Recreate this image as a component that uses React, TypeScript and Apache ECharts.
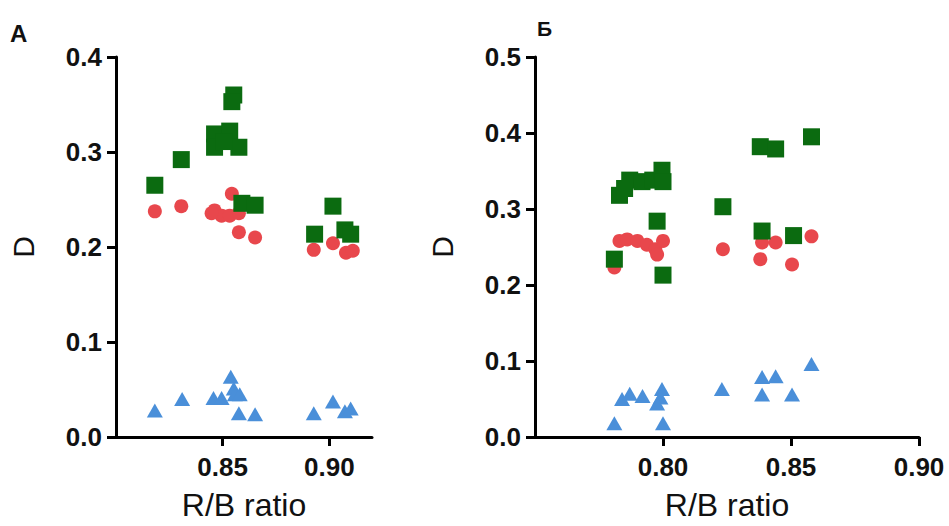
import React, { useEffect, useRef } from "react";
import * as echarts from "echarts";

// Panel A data: [R/B ratio, D]
const aGreen: number[][] = [
  [0.8182, 0.265], [0.8306, 0.292], [0.8462, 0.319], [0.8462, 0.305], [0.8533, 0.322],
  [0.8576, 0.305], [0.8505, 0.311], [0.8552, 0.36], [0.8543, 0.353], [0.859, 0.246],
  [0.8652, 0.244], [0.9017, 0.243], [0.8931, 0.2135], [0.9073, 0.218], [0.91, 0.2135],
];
const aRed: number[][] = [
  [0.8182, 0.2375], [0.8306, 0.243], [0.8543, 0.256], [0.8462, 0.2385], [0.8495, 0.233],
  [0.8533, 0.233], [0.8576, 0.2355], [0.8448, 0.2355], [0.8576, 0.2155], [0.8652, 0.21],
  [0.8927, 0.197], [0.9017, 0.204], [0.9078, 0.194], [0.911, 0.196],
];
const aBlue: number[][] = [
  [0.8182, 0.028], [0.831, 0.04], [0.8457, 0.041], [0.8495, 0.041], [0.8538, 0.0635],
  [0.8552, 0.051], [0.8557, 0.045], [0.858, 0.045], [0.8576, 0.025], [0.8652, 0.024],
  [0.8927, 0.025], [0.9017, 0.0375], [0.9073, 0.027], [0.91, 0.03],
];

// Panel Б data
const bGreen: number[][] = [
  [0.858, 0.395], [0.838, 0.382], [0.844, 0.379], [0.8234, 0.303], [0.8387, 0.271],
  [0.851, 0.265], [0.783, 0.318], [0.787, 0.338], [0.7918, 0.336], [0.796, 0.338],
  [0.7996, 0.351], [0.8, 0.336], [0.785, 0.327], [0.7977, 0.284], [0.781, 0.234], [0.8, 0.213],
];
const bRed: number[][] = [
  [0.858, 0.264], [0.844, 0.256], [0.8387, 0.256], [0.838, 0.234], [0.8504, 0.227],
  [0.8234, 0.247], [0.781, 0.223], [0.783, 0.258], [0.786, 0.26], [0.79, 0.258],
  [0.7937, 0.253], [0.797, 0.247], [0.7977, 0.24], [0.8, 0.258],
];
const bBlue: number[][] = [
  [0.858, 0.096], [0.8387, 0.079], [0.844, 0.08], [0.8387, 0.056], [0.8504, 0.056],
  [0.823, 0.063], [0.784, 0.05], [0.787, 0.057], [0.792, 0.054], [0.7996, 0.063],
  [0.799, 0.052], [0.7977, 0.044], [0.781, 0.018], [0.8, 0.018],
];

const aXTicks = [0.85, 0.9];
const bXTicks = [0.8, 0.85, 0.9];

const GREEN = "#0b6b10";
const RED = "#e8474c";
const BLUE = "#4a8fd9";
const FONT = "'Liberation Sans', Arial, sans-serif";

export default function App() {
  const ref = useRef<HTMLDivElement>(null);
  useEffect(() => {
    if (!ref.current) return;
    const chart = echarts.init(ref.current, null, { renderer: "svg" });
    const axisLine = { show: true, lineStyle: { color: "#000", width: 3 } };
    const tickLabel = { color: "#111", fontSize: 26, fontWeight: "bold" as const, fontFamily: FONT };
    const xAxis = (idx: number, min: number, max: number, ticks: number[]) => ({
      type: "value",
      gridIndex: idx,
      min,
      max,
      axisLine,
      axisTick: { show: true, length: 9, lineStyle: { color: "#000", width: 3 }, customValues: ticks },
      axisLabel: { ...tickLabel, margin: 17, customValues: ticks, formatter: (v: number) => v.toFixed(2) },
      splitLine: { show: false },
      name: "R/B ratio",
      nameLocation: "middle",
      nameGap: 52,
      nameTextStyle: { color: "#111", fontSize: 32, fontFamily: FONT },
    });
    const yAxis = (idx: number, max: number) => ({
      type: "value",
      gridIndex: idx,
      min: 0,
      max,
      interval: 0.1,
      axisLine,
      axisTick: { show: true, length: 9, lineStyle: { color: "#000", width: 3 } },
      axisLabel: { ...tickLabel, margin: 14, formatter: (v: number) => v.toFixed(1) },
      splitLine: { show: false },
      name: "D",
      nameLocation: "middle",
      nameGap: 78,
      nameTextStyle: { color: "#111", fontSize: 30, fontFamily: FONT },
    });
    const scatter = (data: number[][], idx: number, symbol: string, size: any, color: string, z: number) => ({
      type: "scatter",
      xAxisIndex: idx,
      yAxisIndex: idx,
      data,
      symbol,
      symbolSize: size,
      itemStyle: { color, opacity: 1 },
      z,
    });
    chart.setOption({
      animation: false,
      backgroundColor: "#fff",
      grid: [
        { left: 116, top: 57, width: 256, height: 385 },
        { left: 535, top: 57, width: 384, height: 385 },
      ],
      xAxis: [xAxis(0, 0.8, 0.92, aXTicks), xAxis(1, 0.75, 0.9, bXTicks)],
      yAxis: [yAxis(0, 0.4), yAxis(1, 0.5)],
      graphic: [
        { type: "text", left: 10, top: 21, style: { text: "A", fontSize: 24, fontWeight: "bold", fontFamily: FONT, fill: "#111" } },
        { type: "text", left: 537, top: 18, style: { text: "Б", fontSize: 21, fontWeight: "bold", fontFamily: FONT, fill: "#111" } },
      ],
      series: [
        scatter(aBlue, 0, "triangle", [16, 14], BLUE, 2),
        scatter(aRed, 0, "circle", 14, RED, 3),
        scatter(aGreen, 0, "rect", 17, GREEN, 4),
        scatter(bBlue, 1, "triangle", [16, 14], BLUE, 2),
        scatter(bRed, 1, "circle", 14, RED, 3),
        scatter(bGreen, 1, "rect", 17, GREEN, 4),
      ],
    });
    return () => chart.dispose();
  }, []);
  return (
    <div
      ref={ref}
      style={{ position: "fixed", left: 0, top: 0, width: 949, height: 526, background: "#fff" }}
    />
  );
}
